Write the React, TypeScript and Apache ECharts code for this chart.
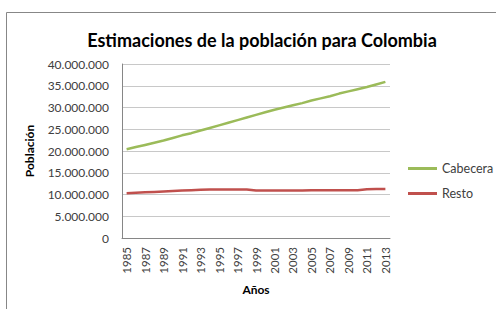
import React, { useEffect, useRef } from "react";
import * as echarts from "echarts";

const years = [
  "1985", "1986", "1987", "1988", "1989", "1990", "1991", "1992", "1993", "1994",
  "1995", "1996", "1997", "1998", "1999", "2000", "2001", "2002", "2003", "2004",
  "2005", "2006", "2007", "2008", "2009", "2010", "2011", "2012", "2013",
];

const cabecera = [
  20400000, 20900000, 21400000, 21900000, 22400000, 23000000, 23600000, 24100000, 24700000, 25300000,
  25900000, 26500000, 27100000, 27700000, 28300000, 28900000, 29500000, 30000000, 30500000, 31000000,
  31600000, 32100000, 32600000, 33200000, 33700000, 34200000, 34700000, 35300000, 35900000,
];

const resto = [
  10300000, 10400000, 10500000, 10600000, 10700000, 10800000, 10900000, 11000000, 11100000, 11150000,
  11150000, 11150000, 11150000, 11150000, 10900000, 10900000, 10900000, 10900000, 10900000, 10900000,
  11000000, 11000000, 11000000, 11000000, 11000000, 11000000, 11200000, 11250000, 11250000,
];

const FONT = "Lato";

function fmt(v: number): string {
  return String(Math.round(v)).replace(/\B(?=(\d{3})+(?!\d))/g, ".");
}

export default function App() {
  const ref = useRef<HTMLDivElement>(null);
  useEffect(() => {
    document.body.style.margin = "0";
    const chart = echarts.init(ref.current!, null, { renderer: "svg" });
    chart.setOption({
      animation: false,
      backgroundColor: "#ffffff",
      title: {
        text: "Estimaciones de la población para Colombia",
        left: 257,
        textAlign: "center",
        top: 26,
        textStyle: { fontFamily: FONT, fontSize: 18, fontWeight: "bold", color: "#000000" },
      },
      graphic: [
        {
          type: "rect",
          shape: { x: 6.5, y: 12.5, width: 520, height: 320 },
          style: { fill: "none", stroke: "#878787", lineWidth: 1 },
          silent: true,
        },
      ],
      legend: {
        orient: "vertical",
        left: 408,
        top: 162,
        padding: 0,
        itemWidth: 29,
        itemHeight: 3,
        itemGap: 12,
        icon: "rect",
        textStyle: { fontFamily: FONT, fontSize: 12.5, color: "#404040" },
        data: ["Cabecera", "Resto"],
      },
      grid: { left: 122, right: 106, top: 64, bottom: 71 },
      xAxis: {
        type: "category",
        data: years,
        boundaryGap: true,
        name: "Años",
        nameLocation: "middle",
        nameGap: 45,
        nameTextStyle: { fontFamily: FONT, fontSize: 12, fontWeight: "bold", color: "#000000" },
        axisLine: { lineStyle: { color: "#868686" } },
        axisTick: { show: false },
        axisLabel: {
          interval: 1,
          rotate: 90,
          fontFamily: FONT,
          fontSize: 11.5,
          color: "#404040",
          margin: 9,
        },
      },
      yAxis: {
        type: "value",
        min: 0,
        max: 40000000,
        interval: 5000000,
        name: "Población",
        nameLocation: "middle",
        nameGap: 87,
        nameTextStyle: { fontFamily: FONT, fontSize: 12, fontWeight: "bold", color: "#000000" },
        axisLine: { show: true, lineStyle: { color: "#868686" } },
        axisTick: { show: false },
        splitLine: { lineStyle: { color: "#c8c8c8" } },
        axisLabel: {
          formatter: (v: number) => fmt(v),
          fontFamily: FONT,
          fontSize: 12,
          color: "#404040",
          margin: 13,
        },
      },
      series: [
        {
          name: "Cabecera",
          type: "line",
          data: cabecera,
          showSymbol: false,
          symbol: "none",
          lineStyle: { color: "#9BBB59", width: 2.5 },
          itemStyle: { color: "#9BBB59" },
        },
        {
          name: "Resto",
          type: "line",
          data: resto,
          showSymbol: false,
          symbol: "none",
          lineStyle: { color: "#C0504D", width: 2.5 },
          itemStyle: { color: "#C0504D" },
        },
      ],
    });
    return () => chart.dispose();
  }, []);
  return <div ref={ref} style={{ width: 496, height: 309 }} />;
}
